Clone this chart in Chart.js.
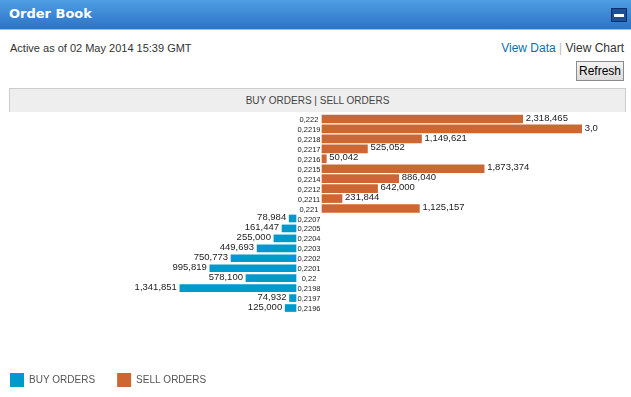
<!DOCTYPE html>
<html>
<head>
<meta charset="utf-8">
<script src="https://cdn.jsdelivr.net/npm/chart.js@4/dist/chart.umd.min.js"></script>
<style>
  body { margin: 0; width: 631px; height: 397px; overflow: hidden; background: #fff;
         font-family: "Liberation Sans", Arial, sans-serif; }
  .header { position: absolute; left: 0; top: 0; width: 631px; height: 29px;
            background: linear-gradient(#4f9de3, #2b74c6); border-bottom: 1px solid #9cc0e6; }
  .header .title { position: absolute; left: 9px; top: 6px; color: #fff; font: bold 13px "DejaVu Sans", Verdana, sans-serif; }
  .header .min { position: absolute; left: 611px; top: 8px; width: 14px; height: 12px;
                 background: #1d4f96; border: 1px solid #0d2f66; }
  .header .min:after { content: ""; position: absolute; left: 2px; top: 5px; width: 10px; height: 3px; background: #fff; }
  .asof { position: absolute; left: 10px; top: 42px; font-size: 11px; color: #333; }
  .links { position: absolute; right: 7px; top: 41px; font-size: 12px; color: #333; }
  .links a { color: #0a6fa8; text-decoration: none; }
  .links .sep { color: #bbb; }
  .refresh { position: absolute; left: 576px; top: 61px; width: 48px; height: 20px; box-sizing: border-box;
             border: 1px solid #8a8a8a; background: linear-gradient(#f4f4f4, #dcdcdc); font-size: 12px;
             text-align: center; line-height: 18px; color: #000; }
  .band { position: absolute; left: 9px; top: 88px; width: 617px; height: 24px; box-sizing: border-box;
          background: #eeeeee; border: 1px solid #cccccc; border-bottom: none; text-align: center;
          font-size: 10px; line-height: 24px; color: #444; }
  #wrap { position: absolute; left: -12px; top: 112px; width: 643px; height: 285px; }
</style>
</head>
<body>
<div class="header"><span class="title">Order Book</span><span class="min"></span></div>
<div class="asof">Active as of 02 May 2014 15:39 GMT</div>
<div class="links"><a>View Data</a> <span class="sep">|</span> View Chart</div>
<div class="refresh">Refresh</div>
<div class="band">BUY ORDERS | SELL ORDERS</div>
<div id="wrap"><canvas id="book"></canvas></div>
<script>
// Order book data
const sellPrices = ['0,222', '0,2219', '0,2218', '0,2217', '0,2216', '0,2215', '0,2214', '0,2212', '0,2211', '0,221'];
const sellVolumes = [2318465, 3000000, 1149621, 525052, 50042, 1873374, 886040, 642000, 231844, 1125157];
const buyPrices = ['0,2207', '0,2205', '0,2204', '0,2203', '0,2202', '0,2201', '0,22', '0,2198', '0,2197', '0,2196'];
const buyVolumes = [78984, 161447, 255000, 449693, 750773, 995819, 578100, 1341851, 74932, 125000];

const BUY_COLOR = '#0099cc';
const SELL_COLOR = '#cc6633';

const labels = sellPrices.concat(buyPrices);
const sellData = sellVolumes.concat(buyPrices.map(() => null));
const buyData = sellPrices.map(() => null).concat(buyVolumes.map(v => -v));

// Price labels between the two sides, volumes at the bar ends
const orderLabels = {
    id: 'orderLabels',
    afterDatasetsDraw(chart) {
        const ctx = chart.ctx;
        const y = chart.scales.y;
        const xBuy = chart.scales.xBuy;
        const xSell = chart.scales.xSell;
        const mid = (xBuy.getPixelForValue(0) + xSell.getPixelForValue(0)) / 2;
        ctx.save();
        ctx.fillStyle = '#222';
        ctx.textBaseline = 'middle';
        ctx.font = '7.5px "Liberation Sans", Arial, sans-serif';
        ctx.textAlign = 'center';
        labels.forEach((lab, i) => ctx.fillText(lab, mid, y.getPixelForValue(i) + 1));

        // the widest sell label gets cut at the panel edge
        ctx.beginPath();
        ctx.rect(0, 0, 610, chart.height);
        ctx.clip();
        ctx.font = '9.5px "Liberation Sans", Arial, sans-serif';
        ctx.textAlign = 'left';
        sellVolumes.forEach((v, i) => {
            ctx.fillText(v.toLocaleString('en-US'), xSell.getPixelForValue(v) + 3, y.getPixelForValue(i) - 1);
        });
        ctx.textAlign = 'right';
        buyVolumes.forEach((v, i) => {
            ctx.fillText(v.toLocaleString('en-US'), xBuy.getPixelForValue(-v) - 3, y.getPixelForValue(i + sellPrices.length) - 1);
        });
        ctx.restore();
    }
};

const ctx = document.getElementById('book').getContext('2d');
new Chart(ctx, {
    type: 'bar',
    data: {
        labels: labels,
        datasets: [{
            label: 'BUY ORDERS',
            data: buyData,
            xAxisID: 'xBuy',
            backgroundColor: BUY_COLOR,
            barThickness: 7,
            grouped: false
        }, {
            label: 'SELL ORDERS',
            data: sellData,
            xAxisID: 'xSell',
            backgroundColor: SELL_COLOR,
            barThickness: 8,
            grouped: false
        }]
    },
    options: {
        indexAxis: 'y',
        responsive: true,
        maintainAspectRatio: false,
        animation: false,
        layout: { padding: { top: 2, left: 0, right: 0, bottom: 0 } },
        scales: {
            y: { display: false },
            xBuy: {
                position: 'bottom',
                min: -3558700,
                max: 3870600,
                ticks: { display: false },
                grid: { display: false },
                border: { display: false },
                afterFit: (scale) => { scale.height = 38; }
            },
            xSell: {
                position: 'top',
                display: false,
                min: -3859000,
                max: 3570200
            }
        },
        plugins: {
            legend: {
                position: 'bottom',
                align: 'start',
                labels: {
                    boxWidth: 14,
                    boxHeight: 14,
                    padding: 22,
                    color: '#555',
                    font: { size: 10, family: '"Liberation Sans", Arial, sans-serif' }
                }
            },
            tooltip: { enabled: false }
        }
    },
    plugins: [orderLabels]
});
</script>
</body>
</html>
